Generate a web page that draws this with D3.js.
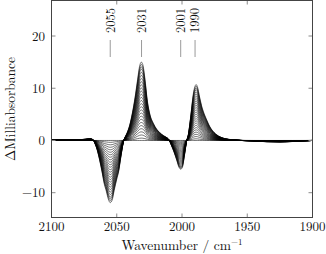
<!DOCTYPE html>
<html>
<head>
<meta charset="utf-8">
<script src="https://cdn.jsdelivr.net/npm/d3@7"></script>
<style>
  body { margin: 0; background: #fff; }
  svg text { font-family: "Latin Modern Roman", "CMU Serif", "Liberation Serif", serif; fill: #111; }
</style>
</head>
<body>
<div id="chart"></div>
<script>
// wavenumber grid (cm^-1) and the largest difference spectrum (mAbs)
const wavenumbers = [2100, 2090, 2085, 2078, 2074, 2072, 2070, 2069, 2068, 2066.5, 2065, 2063, 2061.3, 2059.5, 2058,
  2056.5, 2055, 2053.5, 2052, 2050, 2048.6, 2047, 2046, 2045, 2044.5, 2043.5, 2042, 2040, 2038, 2036, 2034, 2032.5,
  2031.2, 2030, 2028.5, 2026.5, 2024.5, 2022, 2019.5, 2017, 2014, 2012, 2010, 2008, 2006, 2004, 2002.2, 2001, 1999.8,
  1998.2, 1997.2, 1996.4, 1996, 1995, 1994, 1993, 1992, 1991, 1990, 1989.2, 1988.2, 1986.5, 1984.5, 1983, 1981,
  1979, 1977, 1974, 1970, 1967, 1962, 1955, 1945, 1935, 1925, 1915, 1907, 1900];
const maxTrace = [0.15, 0.1, 0.1, 0.15, 0.25, 0.32, 0.35, 0.25, 0.1, -0.7, -1.8, -3.9, -6.0, -8.4, -9.7,
  -11.2, -11.9, -11.4, -9.6, -7.4, -6.0, -3.4, -1.8, -0.4, 0.1, 0.7, 1.5, 3.0, 5.3, 8.2, 11.7, 14.2,
  15.0, 14.5, 12.0, 7.5, 4.9, 3.3, 2.2, 1.5, 0.9, 0.6, 0.15, -1.0, -2.3, -3.8, -5.2, -5.5, -5.2,
  -3.0, -1.3, 0.0, 0.3, 1.3, 3.2, 5.3, 7.6, 9.4, 10.4, 10.7, 10.3, 8.3, 6.2, 5.1, 3.9,
  2.8, 2.0, 1.2, 0.6, 0.35, 0.15, 0.0, -0.1, -0.25, -0.3, -0.2, -0.1, 0.0];
// relative size of each recorded spectrum in the series
const traceScale = [0.0, 0.03, 0.07, 0.11, 0.15, 0.19, 0.23, 0.27, 0.31, 0.35, 0.39, 0.43, 0.47, 0.51, 0.55,
  0.59, 0.63, 0.67, 0.71, 0.75, 0.79, 0.83, 0.87, 0.91, 0.94, 0.97, 1.0];

const bandLabels = ["2055", "2031", "2001", "1990"];
const bandPositions = [2055, 2031, 2001, 1990];
const xTicks = [2100, 2050, 2000, 1950, 1900];
const yTicks = [-10, 0, 10, 20];

const W = 326, H = 254;
const pLeft = 51.5, pRight = 312.5, pTop = 0.5, pBottom = 217.5;

const svg = d3.select("#chart").append("svg")
  .attr("width", W).attr("height", H);

const x = d3.scaleLinear().domain([2100, 1900]).range([pLeft, pRight]);
const y = d3.scaleLinear().domain([-14.75, 26.8]).range([pBottom, pTop]);

svg.append("clipPath").attr("id", "plotclip")
  .append("rect").attr("x", pLeft).attr("y", pTop)
  .attr("width", pRight - pLeft).attr("height", pBottom - pTop);

// spectra
const line = d3.line()
  .x(d => x(d[0]))
  .y(d => y(d[1]))
  .curve(d3.curveMonotoneX);

svg.append("g").attr("clip-path", "url(#plotclip)")
  .selectAll("path")
  .data(traceScale)
  .join("path")
  .attr("d", f => line(wavenumbers.map((w, i) => [w, maxTrace[i] * f])))
  .attr("fill", "none")
  .attr("stroke", "#000")
  .attr("stroke-width", 0.55);

// band markers
const bands = svg.append("g");
bands.selectAll("line")
  .data(bandPositions)
  .join("line")
  .attr("x1", d => x(d)).attr("x2", d => x(d))
  .attr("y1", 40).attr("y2", 57)
  .attr("stroke", "#9a9a9a").attr("stroke-width", 1);
bands.selectAll("text")
  .data(bandLabels)
  .join("text")
  .attr("transform", (d, i) => `translate(${x(bandPositions[i])},33) rotate(-90)`)
  .attr("dy", "0.35em")
  .style("font-size", "12.5px")
  .text(d => d);

// ticks (inward on all sides)
const tk = 4;
const ticks = svg.append("g").attr("stroke", "#8a8a8a").attr("stroke-width", 1);
xTicks.forEach(t => {
  ticks.append("line").attr("x1", x(t)).attr("x2", x(t)).attr("y1", pBottom).attr("y2", pBottom - tk);
  ticks.append("line").attr("x1", x(t)).attr("x2", x(t)).attr("y1", pTop).attr("y2", pTop + tk);
});
yTicks.forEach(t => {
  ticks.append("line").attr("x1", pLeft).attr("x2", pLeft + tk).attr("y1", y(t)).attr("y2", y(t));
  ticks.append("line").attr("x1", pRight).attr("x2", pRight - tk).attr("y1", y(t)).attr("y2", y(t));
});

// frame
svg.append("rect")
  .attr("x", pLeft).attr("y", pTop)
  .attr("width", pRight - pLeft).attr("height", pBottom - pTop)
  .attr("fill", "none").attr("stroke", "#444").attr("stroke-width", 1);

// tick labels
svg.append("g").selectAll("text")
  .data(xTicks)
  .join("text")
  .attr("x", d => x(d)).attr("y", 231)
  .attr("text-anchor", "middle")
  .style("font-size", "13px")
  .text(d => d);

svg.append("g").selectAll("text")
  .data(yTicks)
  .join("text")
  .attr("x", 45).attr("y", d => y(d))
  .attr("dy", "0.35em")
  .attr("text-anchor", "end")
  .style("font-size", "13px")
  .text(d => d < 0 ? "\u2212" + Math.abs(d) : d);

// axis titles
const xt = svg.append("text")
  .attr("x", (pLeft + pRight) / 2).attr("y", 250)
  .attr("text-anchor", "middle")
  .style("font-size", "13.5px");
xt.append("tspan").text("Wavenumber / cm");
xt.append("tspan").attr("dy", -5).style("font-size", "9px").text("\u22121");

svg.append("text")
  .attr("transform", `translate(14.5,${(pTop + pBottom) / 2}) rotate(-90)`)
  .attr("text-anchor", "middle")
  .style("font-size", "13.5px")
  .text("\u0394Milliabsorbance");
</script>
</body>
</html>
